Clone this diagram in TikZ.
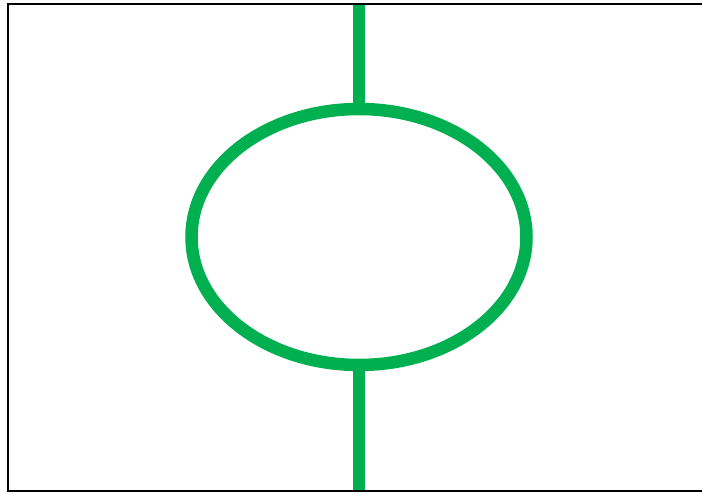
\documentclass[tikz,border=0pt]{standalone}
\usepackage{tikz}
\usetikzlibrary{shapes.geometric, positioning}
\definecolor{ringgreen}{RGB}{0,176,80}

\begin{document}
\begin{tikzpicture}[x=1pt, y=-1pt,
    frameline/.style={black, line width=2pt},
    ringline/.style={ringgreen, line width=12.5pt},
    ring/.style={ellipse, draw=ringgreen, line width=12.5pt, inner sep=0pt, outer sep=0pt,
                 minimum width=335pt, minimum height=256pt}]
            \useasboundingbox (0,0) rectangle (702,494);

            % Frame (open on the right)
            \draw[frameline] (702,4) -- (7.5,4) -- (7.5,490.5) -- (702,490.5);

            % Ring with its two leads
            \node[ring] (loop) at (359,237) {};
            \coordinate (leadtop) at (359,5);
            \coordinate (leadbot) at (359,489.5);
            \draw[ringline] (leadtop) -- (loop.north);
            \draw[ringline] (loop.south) -- (leadbot);
        \end{tikzpicture}
\end{document}
